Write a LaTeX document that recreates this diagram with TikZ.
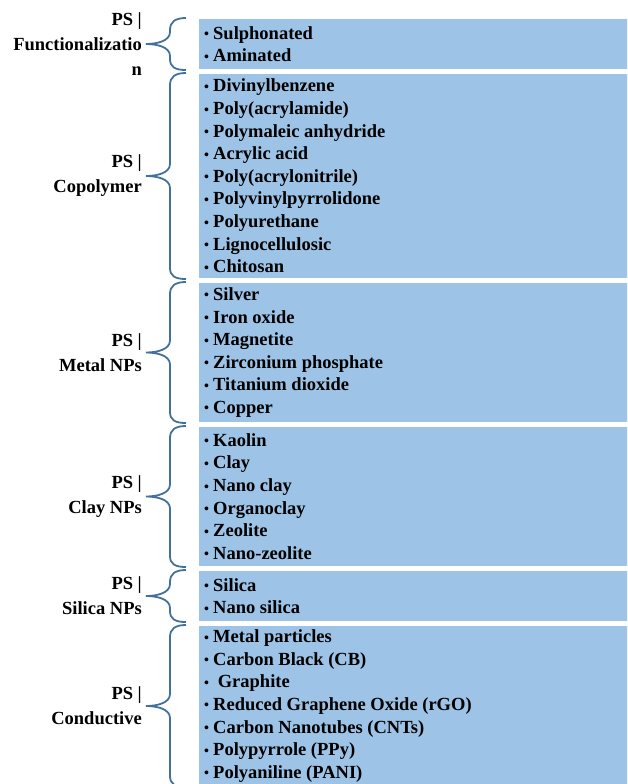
\documentclass[tikz,border=0pt]{standalone}
\usepackage{fontspec}
\setmainfont{Liberation Serif}
\usetikzlibrary{calc}
\definecolor{boxblue}{HTML}{9DC3E6}
\definecolor{braceblue}{HTML}{41719C}

\newcommand{\bul}{\makebox[9pt][l]{\raisebox{0.5pt}{\fontsize{14}{14}\selectfont•}}}

% one group: name, top, bottom, label, items
\newcommand{\grp}[5]{%
\fill[boxblue] (199,#2) rectangle (630,#3);
\node[item] (#1) at (204,{(#2+#3)/2}) {#5};
\node[lbl] (#1l) at (142,{(#2+#3)/2}) {#4};
\draw[brc] (186,#2-1) .. controls (175,#2-1) and (170,#2+3) .. (170,#2+11)
  -- (170,{(#2+#3)/2-12}) .. controls (170,{(#2+#3)/2-3}) and (157,{(#2+#3)/2}) .. (146,{(#2+#3)/2})
  .. controls (157,{(#2+#3)/2}) and (170,{(#2+#3)/2+3}) .. (170,{(#2+#3)/2+12})
  -- (170,#3-10) .. controls (170,#3-2) and (175,#3+1) .. (186,#3+1);
}

\begin{document}
\begin{tikzpicture}[x=1pt,y=-1pt,
  item/.style={anchor=west,inner sep=0pt,align=left,
    font=\fontsize{18.5}{22.6}\selectfont\bfseries},
  lbl/.style={anchor=east,inner sep=0pt,align=right,
    font=\fontsize{18.5}{25}\selectfont\bfseries},
  brc/.style={braceblue,line width=1.8pt}]
\useasboundingbox (0,0) rectangle (627,784);
\begin{scope}
\clip (0,0) rectangle (627,784);
\grp{func}{19}{69}{PS |\\Functionalizatio\\n}{\bul Sulphonated\\\bul Aminated}
\grp{copo}{74}{278}{PS |\\Copolymer}{\bul Divinylbenzene\\\bul Poly(acrylamide)\\\bul Polymaleic anhydride\\\bul Acrylic acid\\\bul Poly(acrylonitrile)\\\bul Polyvinylpyrrolidone\\\bul Polyurethane\\\bul Lignocellulosic\\\bul Chitosan}
\grp{metal}{283}{422}{PS |\\Metal NPs}{\bul Silver\\\bul Iron oxide\\\bul Magnetite\\\bul Zirconium phosphate\\\bul Titanium dioxide\\\bul Copper}
\grp{clay}{427}{566}{PS |\\Clay NPs}{\bul Kaolin\\\bul Clay\\\bul Nano clay\\\bul Organoclay\\\bul Zeolite\\\bul Nano-zeolite}
\grp{silica}{571}{621}{PS |\\Silica NPs}{\bul Silica\\\bul Nano silica}
\grp{cond}{626}{786}{PS |\\Conductive}{\bul Metal particles\\\bul Carbon Black (CB)\\\bul\ Graphite\\\bul Reduced Graphene Oxide (rGO)\\\bul Carbon Nanotubes (CNTs)\\\bul Polypyrrole (PPy)\\\bul Polyaniline (PANI)}
\end{scope}
\end{tikzpicture}
\end{document}
